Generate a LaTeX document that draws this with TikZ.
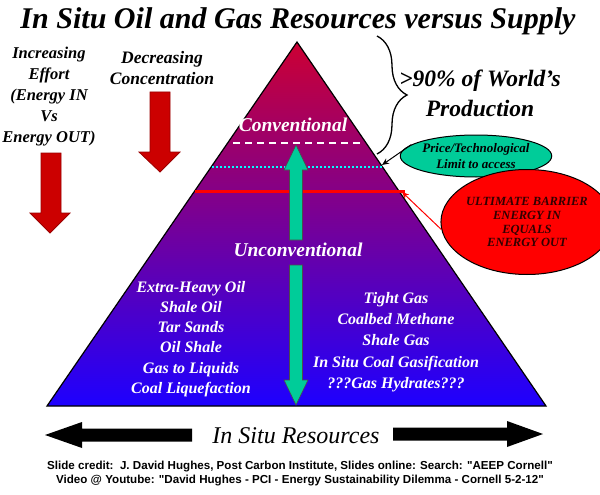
\documentclass[tikz,border=0pt]{standalone}
\usepackage{fontspec}
\setmainfont{Liberation Serif}
\setsansfont{Liberation Sans}
\usetikzlibrary{shapes.geometric,decorations.pathreplacing,arrows.meta}
\definecolor{pyrtop}{RGB}{204,0,51}
\definecolor{pyrmid}{RGB}{145,0,185}
\definecolor{pyrbot}{RGB}{30,0,255}
\definecolor{darrred}{RGB}{204,0,0}
\definecolor{tealg}{RGB}{0,204,153}
\definecolor{ellred}{RGB}{255,0,0}
\definecolor{dottcyan}{RGB}{0,255,255}
\definecolor{ulttext}{RGB}{50,0,0}
\tikzset{
  sidelbl/.style={font=\bfseries\itshape\fontsize{17.5}{21}\selectfont, align=center, inner sep=0pt},
  levellbl/.style={font=\bfseries\itshape\fontsize{19.5}{22}\selectfont, text=white, inner sep=1pt},
  wlist/.style={font=\bfseries\itshape\fontsize{16}{20.2}\selectfont, text=white, align=center, inner sep=0pt},
  redarrow/.style={fill=darrred, draw=darrred!75!black, line width=0.8pt},
  greenarrow/.style={fill=tealg, draw=black!70, line width=0.6pt},
  bigarrow/.style={fill=black},
  ellgreen/.style={ellipse, draw=black, line width=1pt, fill=tealg, minimum width=145pt, minimum height=42pt, inner sep=0pt, align=center, font=\bfseries\itshape\fontsize{13}{16.5}\selectfont},
  ellredst/.style={ellipse, draw=black, line width=1pt, fill=ellred, minimum width=148pt, minimum height=105pt, inner sep=0pt, align=center, text=ulttext, font=\bfseries\itshape\fontsize{12.5}{13.9}\selectfont},
  blackconn/.style={draw=black, line width=1pt, -{Stealth[length=7pt,width=6pt]}},
  redconn/.style={draw=ellred, line width=1pt, -{Stealth[length=7pt,width=6pt]}},
}
\begin{document}
\begin{tikzpicture}[x=1pt,y=-1pt]
\useasboundingbox (0,0) rectangle (600,495);
\fill[white] (0,0) rectangle (600,495);

% title
\node[inner sep=0pt, anchor=base] (title) at (298,29) {\resizebox{555pt}{!}{\bfseries\itshape In Situ Oil and Gas Resources versus Supply}};

% pyramid
\coordinate (apex) at (297,42);
\coordinate (bl) at (47,406);
\coordinate (br) at (546,406);
\shade[top color=pyrtop, middle color=pyrmid, bottom color=pyrbot] (apex) -- (br) -- (bl) -- cycle;
\draw[line width=1.2pt, line join=miter] (apex) -- (br) -- (bl) -- cycle;

% level lines
\draw[white, line width=2pt, dash pattern=on 7pt off 5pt] (233,143) -- (361,143);
\draw[dottcyan, line width=2.2pt, dash pattern=on 2pt off 2pt] (212,167) -- (382,167);
\draw[ellred, line width=3pt] (195,191) -- (405,191);

% green double arrow
\draw[greenarrow] (296,145) -- (308,170) -- (302.5,170) -- (302.5,240) -- (289.5,240) -- (289.5,170) -- (284,170) -- cycle;
\draw[greenarrow] (296,405) -- (308,380) -- (302.5,380) -- (302.5,265) -- (289.5,265) -- (289.5,380) -- (284,380) -- cycle;

% level labels
\node[levellbl] (conv) at (293,125) {Conventional};
\node[levellbl] (unconv) at (298,250) {Unconventional};

% resource lists
\node[wlist] (oils) at (191,339) {Extra-Heavy Oil\\Shale Oil\\Tar Sands\\Oil Shale\\Gas to Liquids\\Coal Liquefaction};
\node[wlist, font=\bfseries\itshape\fontsize{16}{21.2}\selectfont] (gases) at (396,342) {Tight Gas\\Coalbed Methane\\Shale Gas\\In Situ Coal Gasification\\???Gas Hydrates???};

% left labels and arrows
\node[sidelbl, font=\bfseries\itshape\fontsize{16.5}{21}\selectfont] (effort) at (49,97) {Increasing\\Effort\\(Energy IN\\Vs\\Energy OUT)};
\node[sidelbl] (conc) at (162,68) {Decreasing\\Concentration};
\draw[redarrow] (160,172) -- (180,152) -- (170,152) -- (170,92) -- (150,92) -- (150,152) -- (139,152) -- cycle;
\draw[redarrow] (50,233) -- (70,213) -- (61,213) -- (61,153) -- (41,153) -- (41,213) -- (30,213) -- cycle;

% brace and share label
\draw[line width=1.3pt, decorate, decoration={brace, amplitude=30pt}] (377,36) -- (377,154);
\node[font=\bfseries\itshape\fontsize{23.5}{30}\selectfont, align=center, inner sep=0pt] (share) at (480,93) {>90\% of World's\\Production};

% ellipses and connectors
\node[ellgreen] (limit) at (476,156) {Price/Technological\\Limit to access};
\node[ellredst] (barrier) at (527,222) {ULTIMATE BARRIER\\ENERGY IN\\EQUALS\\ENERGY OUT};
\coordinate (edgept) at (382,165);
\coordinate (redend) at (402,192);
\draw[blackconn] (limit.170) -- (edgept);
\draw[redconn] (barrier.185) -- (redend);

% bottom arrows
\node[font=\itshape\fontsize{24}{24}\selectfont, inner sep=0pt] (insitu) at (296,436) {In Situ Resources};
\fill[bigarrow] (45,435) -- (82,422) -- (82,428.5) -- (192,428.5) -- (192,441.5) -- (82,441.5) -- (82,448) -- cycle;
\fill[bigarrow] (543,434) -- (507,421) -- (507,427.5) -- (393,427.5) -- (393,440.5) -- (507,440.5) -- (507,447) -- cycle;

% credits
\node[font=\sffamily\bfseries\fontsize{11.6}{14}\selectfont, align=center, inner sep=0pt] (credit) at (300,474) {Slide credit:\ \ J. David Hughes, Post Carbon Institute, Slides online: Search: \textquotedbl AEEP Cornell\textquotedbl\\Video @ Youtube: \textquotedbl David Hughes - PCI - Energy Sustainability Dilemma - Cornell 5-2-12\textquotedbl};
\end{tikzpicture}
\end{document}
